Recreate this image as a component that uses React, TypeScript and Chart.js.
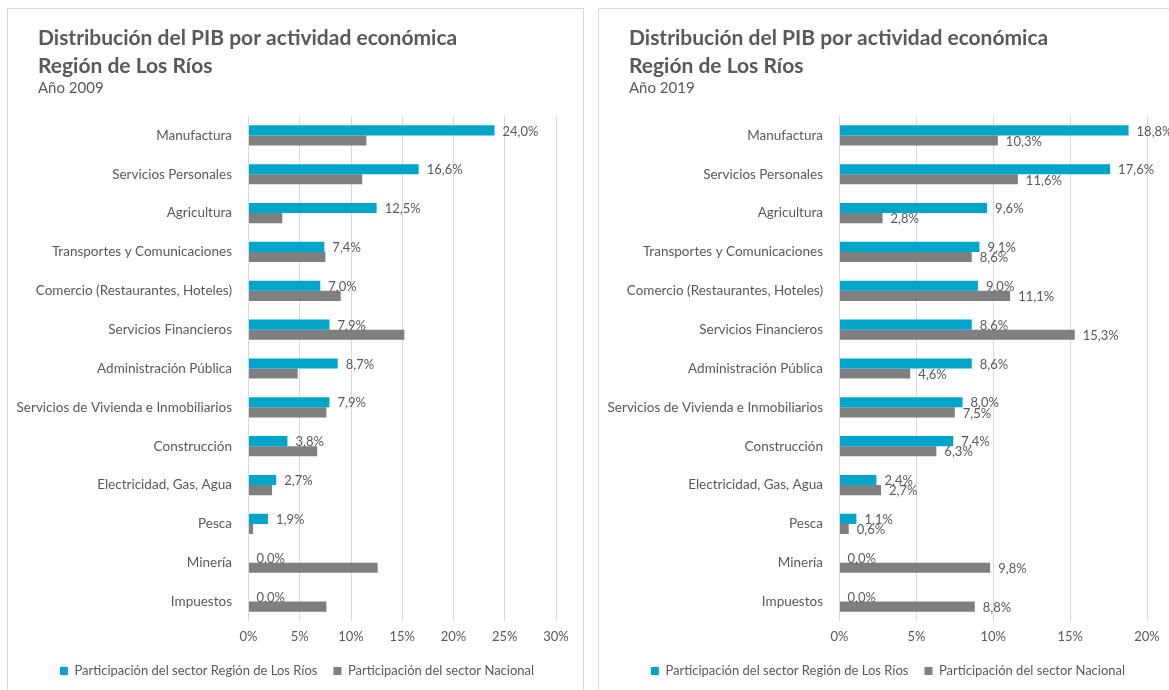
import React, { useEffect, useRef } from "react";
import { Chart, registerables } from "chart.js";

Chart.register(...registerables);

const categories = [
  "Manufactura",
  "Servicios Personales",
  "Agricultura",
  "Transportes y Comunicaciones",
  "Comercio (Restaurantes, Hoteles)",
  "Servicios Financieros",
  "Administración Pública",
  "Servicios de Vivienda e Inmobiliarios",
  "Construcción",
  "Electricidad, Gas, Agua",
  "Pesca",
  "Minería",
  "Impuestos",
];

const region2009 = [24.0, 16.6, 12.5, 7.4, 7.0, 7.9, 8.7, 7.9, 3.8, 2.7, 1.9, 0.0, 0.0];
const national2009 = [11.5, 11.1, 3.3, 7.5, 9.0, 15.2, 4.8, 7.6, 6.7, 2.3, 0.45, 12.6, 7.6];

const region2019 = [18.8, 17.6, 9.6, 9.1, 9.0, 8.6, 8.6, 8.0, 7.4, 2.4, 1.1, 0.0, 0.0];
const national2019 = [10.3, 11.6, 2.8, 8.6, 11.1, 15.3, 4.6, 7.5, 6.3, 2.7, 0.6, 9.8, 8.8];

const titleLines = ["Distribución del PIB por actividad económica", "Región de Los Ríos"];
const legendRegion = "Participación del sector Región de Los Ríos";
const legendNational = "Participación del sector Nacional";

const TEAL = "#00A6C9";
const GREY = "#7F7F7F";
const TEXT = "#595959";
const GRID = "#D9D9D9";
const FONT = "Lato, 'Open Sans', sans-serif";

const fmt = (v: number) => v.toFixed(1).replace(".", ",") + "%";

const barLabels = {
  id: "barLabels",
  afterLayout(chart: any) {
    // let the long category labels use the space left of the y axis box
    if (chart.scales.y) chart.scales.y.left = 0;
  },
  afterDatasetsDraw(chart: any, _args: any, opts: any) {
    const { ctx } = chart;
    ctx.save();
    ctx.font = `13px ${FONT}`;
    ctx.fillStyle = TEXT;
    ctx.textAlign = "left";
    ctx.textBaseline = "middle";
    const which: number[] = opts.datasets || [];
    chart.data.datasets.forEach((ds: any, i: number) => {
      if (!which.includes(i)) return;
      const meta = chart.getDatasetMeta(i);
      meta.data.forEach((el: any, j: number) => {
        ctx.fillText(fmt(ds.data[j]), el.x + 8, el.y + 1);
      });
    });
    ctx.restore();
  },
};

type PanelProps = {
  left: number;
  year: string;
  max: number;
  region: number[];
  national: number[];
  labelSets: number[];
};

function Panel({ left, year, max, region, national, labelSets }: PanelProps) {
  const ref = useRef<HTMLCanvasElement | null>(null);
  useEffect(() => {
    if (!ref.current) return;
    const chart = new Chart(ref.current, {
      type: "bar",
      data: {
        labels: categories,
        datasets: [
          { label: legendRegion, data: region, backgroundColor: TEAL, borderWidth: 0 },
          { label: legendNational, data: national, backgroundColor: GREY, borderWidth: 0 },
        ],
      },
      options: {
        indexAxis: "y",
        animation: false,
        responsive: false,
        maintainAspectRatio: false,
        datasets: { bar: { categoryPercentage: 0.52, barPercentage: 1 } },
        layout: { padding: { left: 30, right: 27, top: 0, bottom: 11.5 } },
        scales: {
          x: {
            min: 0,
            max,
            grid: { color: GRID, lineWidth: 1, drawTicks: false },
            border: { display: false },
            ticks: {
              stepSize: 5,
              padding: 8,
              color: TEXT,
              font: { family: FONT, size: 13, lineHeight: 1.2 },
              callback: (v: any) => v + "%",
            },
            afterFit: (s: any) => {
              s.paddingLeft = 0;
              s.paddingRight = 0;
              s.height = 27.5;
            },
          },
          y: {
            grid: { display: false, drawTicks: false },
            border: { display: false },
            ticks: {
              padding: 16.5,
              color: TEXT,
              font: { family: FONT, size: 13.5 },
              autoSkip: false,
            },
            afterFit: (s: any) => {
              s.width = 210.5;
              s.paddingTop = 0;
              s.paddingBottom = 0;
            },
          },
        },
        plugins: {
          title: {
            display: true,
            text: titleLines,
            align: "start",
            color: TEXT,
            font: { family: FONT, size: 21, weight: "bold", lineHeight: 28 / 21 },
            padding: { top: 15, bottom: 0 },
          },
          subtitle: {
            display: true,
            text: "Año " + year,
            align: "start",
            color: TEXT,
            font: { family: FONT, size: 15, lineHeight: 16 / 15 },
            padding: { top: 0, bottom: 20 },
          },
          legend: {
            position: "bottom",
            labels: {
              boxWidth: 8,
              boxHeight: 8,
              padding: 16,
              color: TEXT,
              font: { family: FONT, size: 13 },
            },
          },
          tooltip: { enabled: false },
          barLabels: { datasets: labelSets },
        } as any,
      },
      plugins: [barLabels],
    });
    return () => chart.destroy();
  }, []);

  return (
    <div
      style={{
        position: "absolute",
        left,
        top: 8,
        width: 575,
        height: 700,
        border: `1px solid ${GRID}`,
        background: "#fff",
      }}
    >
      <canvas ref={ref} width={575} height={690} style={{ display: "block" }} />
    </div>
  );
}

export default function App() {
  return (
    <div
      style={{
        position: "absolute",
        left: 0,
        top: 0,
        width: 1169,
        height: 690,
        overflow: "hidden",
        background: "#fff",
      }}
    >
      <Panel left={7} year="2009" max={30} region={region2009} national={national2009} labelSets={[0]} />
      <Panel left={598} year="2019" max={20} region={region2019} national={national2019} labelSets={[0, 1]} />
    </div>
  );
}
